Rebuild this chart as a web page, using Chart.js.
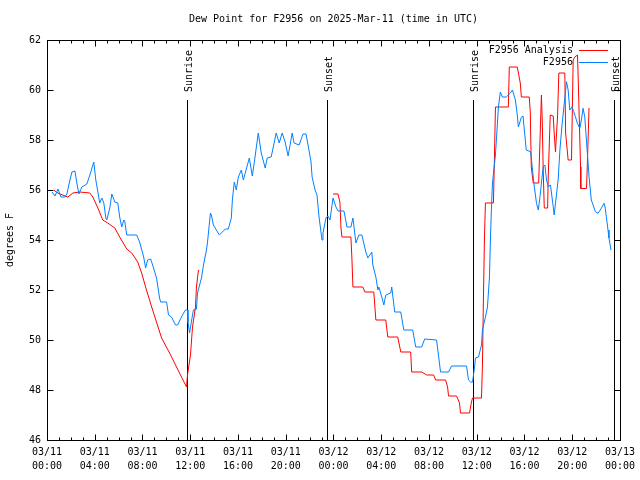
<!DOCTYPE html>
<html>
<head>
<meta charset="utf-8">
<script src="https://cdn.jsdelivr.net/npm/chart.js@4"></script>
<style>
  html, body { margin: 0; padding: 0; background: #fff; }
  #wrap { width: 640px; height: 480px; }
</style>
</head>
<body>
<div id="wrap"><canvas id="dewChart" width="640" height="480"></canvas></div>
<script>
const FONT = '"DejaVu Sans Mono", monospace';
const chartTitle = 'Dew Point for F2956 on 2025-Mar-11 (time in UTC)';
const yTitle = 'degrees F';
const xTickLabels = ['03/11\n00:00', '03/11\n04:00', '03/11\n08:00', '03/11\n12:00', '03/11\n16:00', '03/11\n20:00',
  '03/12\n00:00', '03/12\n04:00', '03/12\n08:00', '03/12\n12:00', '03/12\n16:00', '03/12\n20:00', '03/13\n00:00'];

// sunrise / sunset, hours after 03/11 00:00 UTC
const eventHours = [11.71, 23.48, 35.67, 47.46];
const eventLabels = ['Sunrise', 'Sunset', 'Sunrise', 'Sunset'];

// observed (F2956)
const obsHours = [0.42, 0.67, 0.92, 1.17, 1.50, 1.67, 1.92, 2.09, 2.34, 2.50, 2.67, 2.92, 3.34, 3.59, 3.92, 4.09, 4.42, 4.59, 4.76, 4.93,
  5.01, 5.26, 5.43, 5.68, 5.93, 6.09, 6.26, 6.43, 6.51, 6.68, 7.51, 7.76, 8.10, 8.26, 8.43, 8.68, 8.85, 9.18, 9.43, 9.52,
  10.02, 10.18, 10.43, 10.77, 10.94, 11.35, 11.60, 11.77, 11.81, 11.94, 12.19, 12.27, 12.52, 12.61, 12.94, 13.11, 13.36, 13.44, 13.69, 13.77,
  13.94, 14.44, 14.94, 15.19, 15.44, 15.53, 15.69, 15.86, 16.03, 16.28, 16.45, 16.95, 17.20, 17.36, 17.70, 17.95, 18.28, 18.45, 18.78, 18.87,
  19.20, 19.45, 19.70, 19.95, 20.20, 20.54, 20.70, 21.12, 21.45, 21.70, 21.87, 22.12, 22.21, 22.46, 22.62, 22.79, 23.04, 23.12, 23.37, 23.54,
  23.71, 23.96, 24.21, 24.38, 24.88, 25.13, 25.46, 25.63, 25.88, 26.13, 26.38, 26.71, 26.88, 27.21, 27.30, 27.55, 27.72, 27.80, 28.05, 28.22,
  28.38, 28.80, 28.88, 29.13, 29.64, 29.89, 30.64, 30.89, 31.39, 31.64, 32.64, 32.97, 33.64, 33.89, 35.15, 35.31, 35.48, 35.65, 35.81, 35.90,
  36.15, 36.40, 36.48, 36.73, 36.90, 37.07, 37.15, 37.23, 37.32, 37.57, 37.82, 37.98, 38.15, 38.48, 38.82, 38.99, 39.24, 39.40, 39.49,
  39.74, 39.88, 40.15, 40.52, 40.65, 40.79, 41.01, 41.16, 41.30, 41.57, 41.71, 41.85, 41.99, 42.18, 42.41, 42.49, 42.60, 42.82, 42.97, 43.16,
  43.38, 43.52, 43.66, 43.80, 43.99, 44.13, 44.27, 44.43, 44.64, 44.77, 44.91, 45.05, 45.19, 45.33, 45.41, 45.60, 45.75, 45.94, 46.16, 46.44,
  46.67, 46.77, 46.86, 47.00, 47.08, 47.25];
const obsValues = [55.92, 55.76, 56.04, 55.72, 55.72, 55.84, 56.40, 56.72, 56.76, 56.28, 55.84, 56.12, 56.24, 56.60, 57.12, 56.40, 55.48, 55.68, 55.48, 54.88,
  54.80, 55.28, 55.84, 55.52, 55.48, 54.92, 54.52, 54.80, 54.76, 54.20, 54.20, 53.92, 53.32, 52.88, 53.20, 53.24, 53.00, 52.48, 51.68, 51.52,
  51.52, 51.00, 50.92, 50.60, 50.60, 51.00, 51.20, 51.20, 50.72, 50.28, 51.00, 51.20, 51.24, 51.88, 52.48, 53.00, 53.60, 53.88, 55.08, 55.00,
  54.60, 54.20, 54.44, 54.44, 54.88, 55.60, 56.32, 56.00, 56.52, 56.80, 56.40, 57.28, 56.56, 57.08, 58.28, 57.48, 56.88, 57.28, 57.32, 57.52,
  58.28, 57.88, 58.28, 57.92, 57.36, 58.28, 57.88, 57.80, 58.24, 58.24, 57.80, 57.12, 56.52, 56.00, 55.80, 54.92, 54.00, 54.28, 54.88, 54.96,
  54.80, 55.68, 55.32, 55.16, 55.16, 54.52, 54.52, 54.88, 53.88, 54.20, 54.20, 53.52, 53.28, 53.52, 53.00, 52.52, 52.00, 52.12, 51.72, 51.40,
  51.80, 51.88, 52.12, 51.12, 51.12, 50.40, 50.40, 49.72, 49.72, 50.04, 50.00, 48.72, 48.72, 48.96, 48.96, 48.40, 48.32, 48.32, 48.88, 49.28,
  49.32, 49.80, 50.40, 50.92, 51.32, 52.52, 54.08, 55.20, 56.28, 57.40, 59.32, 59.92, 59.72, 59.72, 59.88, 60.00, 59.60, 59.00, 58.52,
  58.91, 58.96, 57.60, 57.53, 56.93, 56.27, 55.47, 55.20, 55.73, 56.93, 57.00, 56.40, 56.13, 56.20, 55.33, 55.00, 55.47, 56.40, 57.60, 58.67,
  59.67, 60.33, 60.00, 59.20, 59.33, 59.13, 58.93, 58.67, 58.47, 58.80, 59.27, 58.93, 58.00, 57.07, 56.53, 55.60, 55.40, 55.13, 55.07, 55.27,
  55.47, 55.27, 54.93, 54.40, 54.08, 53.60];

// analysis (F2956 Analysis), null = no data
const anaHours = [0.58, 0.75, 1.09, 1.75, 2.17, 2.75, 3.59, 3.84, 4.26, 4.67, 5.09, 5.68, 6.09, 6.68, 7.10, 7.60, 7.93, 8.26, 8.77, 9.60,
  10.27, 11.10, 11.69, 11.77, 12.02, 12.19, 12.44, 12.52, 12.69, 18.00,
  23.96, 24.38, 24.54, 24.63, 24.71, 25.46, 25.54, 25.63, 26.46, 26.63, 27.38, 27.55, 28.38, 28.55, 29.38, 29.64, 30.47, 30.55, 31.39, 31.81,
  32.39, 32.56, 33.39, 33.56, 33.64, 34.31, 34.56, 34.64, 35.40, 35.56, 35.65, 36.40, 36.48, 36.56, 36.65, 36.73, 37.40, 37.48, 37.57, 38.65,
  38.73, 39.40, 39.65, 39.74, 40.40, 40.49, 40.57, 40.74,
  41.19, 41.42, 41.49, 41.57, 41.66, 41.94, 41.99, 42.16, 42.41, 42.49, 42.60, 42.68, 42.77, 42.88, 43.38, 43.45, 43.66, 43.94, 44.08, 44.22,
  44.44, 44.49, 44.70, 44.72, 45.20, 45.28, 45.41];
const anaValues = [56.00, 55.92, 55.84, 55.72, 55.88, 55.92, 55.88, 55.72, 55.28, 54.80, 54.68, 54.48, 54.12, 53.64, 53.48, 53.12, 52.68, 52.12, 51.32, 50.08,
  49.48, 48.68, 48.12, 48.60, 49.40, 50.52, 51.32, 52.12, 52.80, null,
  55.84, 55.84, 55.52, 54.48, 54.12, 54.12, 53.32, 52.12, 52.12, 51.92, 51.92, 50.80, 50.80, 50.12, 50.12, 49.52, 49.52, 48.72, 48.72, 48.60,
  48.60, 48.40, 48.40, 48.12, 47.76, 47.76, 47.48, 47.08, 47.08, 47.52, 47.68, 47.68, 49.00, 51.60, 54.12, 55.48, 55.48, 57.20, 59.32, 59.32,
  60.92, 60.92, 60.28, 59.72, 59.72, 59.12, 56.92, 56.28,
  56.28, 59.80, 58.80, 56.80, 55.28, 55.28, 56.48, 59.00, 58.96, 58.28, 57.52, 58.20, 58.92, 60.68, 60.68, 58.28, 57.20, 57.20, 61.20, 61.32,
  61.40, 60.68, 56.92, 56.06, 56.06, 57.20, 59.28];

const toPoints = (xs, ys) => xs.map((h, i) => ({ x: h, y: ys[i] }));

const titlePlugin = {
  id: 'gpTitle',
  beforeDraw(chart) {
    const { ctx, chartArea: a } = chart;
    ctx.save();
    ctx.font = '10px ' + FONT;
    ctx.fillStyle = '#000';
    ctx.textAlign = 'center';
    ctx.textBaseline = 'middle';
    ctx.fillText(chartTitle, (a.left + a.right) / 2, 19);
    ctx.restore();
  }
};

const eventPlugin = {
  id: 'sunEvents',
  beforeDatasetsDraw(chart) {
    const { ctx, chartArea: a, scales: { x } } = chart;
    ctx.save();
    ctx.strokeStyle = '#000';
    ctx.lineWidth = 1;
    ctx.fillStyle = '#000';
    ctx.font = '10px ' + FONT;
    eventHours.forEach((h, i) => {
      const px = Math.round(x.getPixelForValue(h)) + 0.5;
      ctx.beginPath();
      ctx.moveTo(px, a.top + 60);
      ctx.lineTo(px, a.bottom);
      ctx.stroke();
      ctx.save();
      ctx.translate(px + 2, a.top + 52);
      ctx.rotate(-Math.PI / 2);
      ctx.textAlign = 'left';
      ctx.textBaseline = 'middle';
      ctx.fillText(eventLabels[i], 0, 0);
      ctx.restore();
    });
    ctx.restore();
  }
};

const framePlugin = {
  id: 'gpFrame',
  afterDatasetsDraw(chart) {
    const { ctx, chartArea: a, scales: { x, y } } = chart;
    const L = Math.round(a.left) + 0.5, R = Math.round(a.right) + 0.5;
    const T = Math.round(a.top) + 0.5, B = Math.round(a.bottom) + 0.5;
    ctx.save();
    ctx.strokeStyle = '#000';
    ctx.lineWidth = 1;
    ctx.beginPath();
    for (let h = x.min; h <= x.max; h++) {
      const px = Math.round(x.getPixelForValue(h)) + 0.5;
      const len = h % 4 === 0 ? 6 : 3;
      ctx.moveTo(px, B); ctx.lineTo(px, B - len);
      ctx.moveTo(px, T); ctx.lineTo(px, T + len);
    }
    y.ticks.forEach(t => {
      const py = Math.round(y.getPixelForValue(t.value)) + 0.5;
      ctx.moveTo(L, py); ctx.lineTo(L + 6, py);
      ctx.moveTo(R, py); ctx.lineTo(R - 6, py);
    });
    ctx.stroke();
    ctx.strokeRect(L, T, R - L, B - T);
    ctx.restore();
  }
};

const keyPlugin = {
  id: 'gpKey',
  afterDatasetsDraw(chart) {
    const { ctx, chartArea: a } = chart;
    ctx.save();
    ctx.font = '10px ' + FONT;
    ctx.textAlign = 'right';
    ctx.textBaseline = 'middle';
    chart.data.datasets.forEach((ds, i) => {
      const yy = a.top + 10 + i * 12;
      ctx.fillStyle = '#000';
      ctx.fillText(ds.label, a.right - 47, yy);
      ctx.strokeStyle = ds.borderColor;
      ctx.lineWidth = 1;
      ctx.beginPath();
      ctx.moveTo(a.right - 41, Math.round(yy) + 0.5);
      ctx.lineTo(a.right - 12, Math.round(yy) + 0.5);
      ctx.stroke();
    });
    ctx.restore();
  }
};

new Chart(document.getElementById('dewChart'), {
  type: 'line',
  data: {
    datasets: [
      { label: 'F2956 Analysis', data: toPoints(anaHours, anaValues), borderColor: 'rgb(255,0,0)', borderWidth: 1, pointRadius: 0, spanGaps: false, order: 2 },
      { label: 'F2956', data: toPoints(obsHours, obsValues), borderColor: 'rgb(0,128,255)', borderWidth: 1, pointRadius: 0, order: 1 }
    ]
  },
  options: {
    responsive: false,
    animation: false,
    devicePixelRatio: 1,
    layout: { padding: { top: 40, right: 18, left: 0, bottom: 0 } },
    plugins: { legend: { display: false }, title: { display: false }, tooltip: { enabled: false } },
    scales: {
      x: {
        type: 'linear', min: 0, max: 48,
        grid: { display: false, drawTicks: false },
        border: { display: false },
        ticks: {
          stepSize: 4, autoSkip: false, maxRotation: 0, padding: 5, color: '#000',
          font: { family: FONT, size: 10, lineHeight: 1.45 },
          callback: (v, i) => xTickLabels[i].split('\n')
        },
        afterFit: s => { s.height = 40; }
      },
      y: {
        min: 46, max: 62,
        grid: { display: false, drawTicks: false },
        border: { display: false },
        ticks: { stepSize: 2, padding: 6, color: '#000', font: { family: FONT, size: 10 } },
        title: { display: true, text: yTitle, color: '#000', font: { family: FONT, size: 10 }, padding: { top: 4, bottom: 0 } },
        afterFit: s => { s.width = 47; }
      }
    }
  },
  plugins: [titlePlugin, eventPlugin, framePlugin, keyPlugin]
});
</script>
</body>
</html>
